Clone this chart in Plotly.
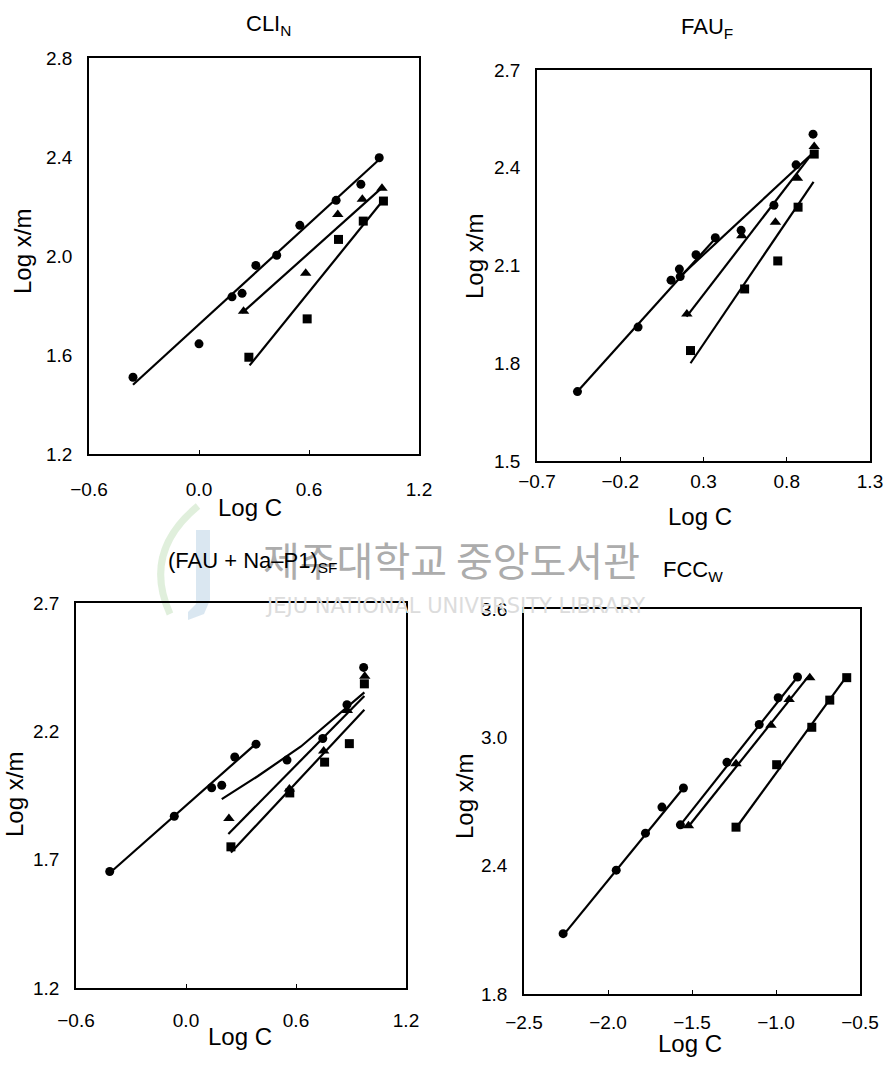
import plotly.graph_objects as go

W, H = 884, 1074

# ---------------- CLI_N ----------------
cli_circle_x = [-0.36, 0.00, 0.18, 0.235, 0.31, 0.424, 0.55, 0.748, 0.883, 0.983]
cli_circle_y = [1.51, 1.645, 1.835, 1.849, 1.962, 2.003, 2.124, 2.225, 2.29, 2.397]
cli_tri_x = [0.243, 0.582, 0.757, 0.891, 0.998]
cli_tri_y = [1.777, 1.93, 2.168, 2.229, 2.274]
cli_sq_x = [0.272, 0.59, 0.761, 0.896, 1.006]
cli_sq_y = [1.591, 1.746, 2.067, 2.141, 2.222]
cli_fit_circle_x = [-0.36, 0.98]
cli_fit_circle_y = [1.48, 2.388]
cli_fit_tri_x = [0.235, 1.0]
cli_fit_tri_y = [1.77, 2.277]
cli_fit_sq_x = [0.276, 0.99]
cli_fit_sq_y = [1.558, 2.212]
cli_xticks = [-0.6, 0.0, 0.6, 1.2]
cli_xticktext = ["\u22120.6", "0.0", "0.6", "1.2"]
cli_yticks = [1.2, 1.6, 2.0, 2.4, 2.8]
cli_yticktext = ["1.2", "1.6", "2.0", "2.4", "2.8"]

# ---------------- FAU_F ----------------
fau_circle_a_x = [-0.457, -0.093, 0.105, 0.155, 0.255, 0.371]
fau_circle_a_y = [1.713, 1.911, 2.055, 2.089, 2.133, 2.185]
fau_circle_b_x = [0.16, 0.526, 0.723, 0.856, 0.958]
fau_circle_b_y = [2.066, 2.208, 2.285, 2.409, 2.503]
fau_tri_x = [0.2, 0.53, 0.732, 0.864, 0.965]
fau_tri_y = [1.951, 2.191, 2.233, 2.368, 2.465]
fau_sq_x = [0.222, 0.547, 0.746, 0.868, 0.965]
fau_sq_y = [1.839, 2.028, 2.114, 2.279, 2.442]
fau_fit_circle_a_x = [-0.457, 0.378]
fau_fit_circle_a_y = [1.713, 2.187]
fau_fit_circle_b_x = [0.15, 0.965]
fau_fit_circle_b_y = [2.062, 2.449]
fau_fit_tri_x = [0.198, 0.965]
fau_fit_tri_y = [1.943, 2.452]
fau_fit_sq_x = [0.222, 0.961]
fau_fit_sq_y = [1.80, 2.357]
fau_xticks = [-0.7, -0.2, 0.3, 0.8, 1.3]
fau_xticktext = ["\u22120.7", "\u22120.2", "0.3", "0.8", "1.3"]
fau_yticks = [1.5, 1.8, 2.1, 2.4, 2.7]
fau_yticktext = ["1.5", "1.8", "2.1", "2.4", "2.7"]

# ---------------- (FAU + Na-P1)_SF ----------------
mix_circle_a_x = [-0.416, -0.064, 0.14, 0.266, 0.382]
mix_circle_a_y = [1.654, 1.869, 1.98, 2.10, 2.15]
mix_circle_b_x = [0.195, 0.551, 0.746, 0.878, 0.969]
mix_circle_b_y = [1.99, 2.088, 2.172, 2.304, 2.449]
mix_tri_x = [0.234, 0.564, 0.751, 0.88, 0.975]
mix_tri_y = [1.86, 1.975, 2.123, 2.281, 2.415]
mix_sq_x = [0.245, 0.566, 0.756, 0.891, 0.973]
mix_sq_y = [1.75, 1.96, 2.08, 2.152, 2.385]
mix_fit_circle_a_x = [-0.416, 0.382]
mix_fit_circle_a_y = [1.648, 2.152]
mix_fit_circle_b_x = [0.195, 0.391, 0.627, 0.973]
mix_fit_circle_b_y = [1.936, 2.025, 2.141, 2.352]
mix_fit_tri_x = [0.231, 0.973]
mix_fit_tri_y = [1.80, 2.338]
mix_fit_sq_x = [0.245, 0.973]
mix_fit_sq_y = [1.728, 2.284]
mix_xticks = [-0.6, 0.0, 0.6, 1.2]
mix_xticktext = ["\u22120.6", "0.0", "0.6", "1.2"]
mix_yticks = [1.2, 1.7, 2.2, 2.7]
mix_yticktext = ["1.2", "1.7", "2.2", "2.7"]

# ---------------- FCC_W ----------------
fcc_circle_a_x = [-2.267, -1.951, -1.777, -1.679, -1.551]
fcc_circle_a_y = [2.082, 2.379, 2.552, 2.674, 2.763]
fcc_circle_b_x = [-1.569, -1.292, -1.10, -0.987, -0.872]
fcc_circle_b_y = [2.591, 2.883, 3.06, 3.185, 3.282]
fcc_tri_x = [-1.521, -1.238, -1.03, -0.922, -0.799]
fcc_tri_y = [2.587, 2.877, 3.057, 3.177, 3.279]
fcc_sq_x = [-1.238, -0.996, -0.787, -0.68, -0.579]
fcc_sq_y = [2.58, 2.872, 3.047, 3.174, 3.279]
fcc_fit_circle_a_x = [-2.267, -1.551]
fcc_fit_circle_a_y = [2.074, 2.763]
fcc_fit_circle_b_x = [-1.569, -0.872]
fcc_fit_circle_b_y = [2.591, 3.282]
fcc_fit_tri_x = [-1.521, -0.813]
fcc_fit_tri_y = [2.583, 3.279]
fcc_fit_sq_x = [-1.238, -0.585]
fcc_fit_sq_y = [2.576, 3.279]
fcc_xticks = [-2.5, -2.0, -1.5, -1.0, -0.5]
fcc_xticktext = ["\u22122.5", "\u22122.0", "\u22121.5", "\u22121.0", "\u22120.5"]
fcc_yticks = [1.8, 2.4, 3.0, 3.6]
fcc_yticktext = ["1.8", "2.4", "3.0", "3.6"]

FONT = "Liberation Sans, Arial, Helvetica, sans-serif"
INK = "black"


def px(x):
    return x / W


def py(y):
    return 1 - y / H


panels = [
    dict(
        name="CLI<sub>N</sub>", title_xy=(268, 25),
        box=(89, 419, 58, 454), xrange=[-0.6, 1.2], yrange=[1.2, 2.8],
        xticks=(cli_xticks, cli_xticktext), yticks=(cli_yticks, cli_yticktext),
        xstand=17, ystand=11, ylab_xy=(23, 252), xlab_xy=(250, 507),
        points=[(cli_circle_x, cli_circle_y, "circle"),
                (cli_tri_x, cli_tri_y, "triangle-up"),
                (cli_sq_x, cli_sq_y, "square")],
        fits=[(cli_fit_circle_x, cli_fit_circle_y),
              (cli_fit_tri_x, cli_fit_tri_y),
              (cli_fit_sq_x, cli_fit_sq_y)],
    ),
    dict(
        name="FAU<sub>F</sub>", title_xy=(707, 28),
        box=(537, 870, 70, 461), xrange=[-0.7, 1.3], yrange=[1.5, 2.7],
        xticks=(fau_xticks, fau_xticktext), yticks=(fau_yticks, fau_yticktext),
        xstand=2, ystand=11, ylab_xy=(474, 257), xlab_xy=(700, 516),
        points=[(fau_circle_a_x, fau_circle_a_y, "circle"),
                (fau_circle_b_x, fau_circle_b_y, "circle"),
                (fau_tri_x, fau_tri_y, "triangle-up"),
                (fau_sq_x, fau_sq_y, "square")],
        fits=[(fau_fit_circle_a_x, fau_fit_circle_a_y),
              (fau_fit_circle_b_x, fau_fit_circle_b_y),
              (fau_fit_tri_x, fau_fit_tri_y),
              (fau_fit_sq_x, fau_fit_sq_y)],
    ),
    dict(
        name="(FAU + Na\u2013P1)<sub>SF</sub>", title_xy=(253, 562),
        box=(76, 406, 603, 988), xrange=[-0.6, 1.2], yrange=[1.2, 2.7],
        xticks=(mix_xticks, mix_xticktext), yticks=(mix_yticks, mix_yticktext),
        xstand=14, ystand=11, ylab_xy=(14, 795), xlab_xy=(240, 1036),
        points=[(mix_circle_a_x, mix_circle_a_y, "circle"),
                (mix_circle_b_x, mix_circle_b_y, "circle"),
                (mix_tri_x, mix_tri_y, "triangle-up"),
                (mix_sq_x, mix_sq_y, "square")],
        fits=[(mix_fit_circle_a_x, mix_fit_circle_a_y),
              (mix_fit_circle_b_x, mix_fit_circle_b_y),
              (mix_fit_tri_x, mix_fit_tri_y),
              (mix_fit_sq_x, mix_fit_sq_y)],
    ),
    dict(
        name="FCC<sub>W</sub>", title_xy=(693, 571),
        box=(524, 860, 609, 994), xrange=[-2.5, -0.5], yrange=[1.8, 3.6],
        xticks=(fcc_xticks, fcc_xticktext), yticks=(fcc_yticks, fcc_yticktext),
        xstand=10, ystand=11, ylab_xy=(464, 797), xlab_xy=(690, 1043),
        points=[(fcc_circle_a_x, fcc_circle_a_y, "circle"),
                (fcc_circle_b_x, fcc_circle_b_y, "circle"),
                (fcc_tri_x, fcc_tri_y, "triangle-up"),
                (fcc_sq_x, fcc_sq_y, "square")],
        fits=[(fcc_fit_circle_a_x, fcc_fit_circle_a_y),
              (fcc_fit_circle_b_x, fcc_fit_circle_b_y),
              (fcc_fit_tri_x, fcc_fit_tri_y),
              (fcc_fit_sq_x, fcc_fit_sq_y)],
    ),
]

fig = go.Figure()
layout = dict(
    template="none",
    width=W, height=H,
    margin=dict(l=0, r=0, t=0, b=0, pad=0),
    paper_bgcolor="white",
    plot_bgcolor="rgba(0,0,0,0)",
    showlegend=False,
    font=dict(family=FONT, color=INK),
)

annotations = []
shapes = []


def label(text, x, y, size, color=INK, family=FONT, angle=0):
    return dict(text=text, x=px(x), y=py(y), xref="paper", yref="paper",
                xanchor="center", yanchor="middle", showarrow=False, textangle=angle,
                font=dict(family=family, size=size, color=color))


def path(points):
    return "M " + " L ".join(f"{px(a):.5f},{py(b):.5f}" for a, b in points)


# faint library watermark in the middle of the sheet
shapes.append(dict(type="path", xref="paper", yref="paper", layer="below",
                   path="M {:.5f},{:.5f} Q {:.5f},{:.5f} {:.5f},{:.5f}".format(
                       px(198), py(506), px(142), py(552), px(170), py(614)),
                   line=dict(color="rgba(165,210,155,0.35)", width=7)))
shapes.append(dict(type="path", xref="paper", yref="paper", layer="below",
                   path=path([(196, 530), (210, 530), (210, 600), (204, 614),
                              (188, 620), (188, 612), (196, 604)]) + " Z",
                   fillcolor="rgba(150,185,215,0.35)", line=dict(width=0)))
annotations.append(label("제주대학교 중앙도서관", 452, 559, 40, "#acacac",
                         "Noto Sans CJK KR"))
annotations.append(label("JEJU NATIONAL UNIVERSITY LIBRARY", 455, 606, 21, "#dcdcdc",
                         "DejaVu Sans"))

for i, p in enumerate(panels, start=1):
    xa = "x" if i == 1 else f"x{i}"
    ya = "y" if i == 1 else f"y{i}"
    xl = "xaxis" if i == 1 else f"xaxis{i}"
    yl = "yaxis" if i == 1 else f"yaxis{i}"
    x0, x1, y0, y1 = p["box"]
    common = dict(showline=True, mirror=True, linecolor=INK, linewidth=1.6,
                  showgrid=False, zeroline=False, automargin=False,
                  tickfont=dict(family=FONT, size=19, color=INK))
    layout[xl] = dict(common, domain=[px(x0), px(x1)], anchor=ya, range=p["xrange"],
                      tickmode="array", tickvals=p["xticks"][0], ticktext=p["xticks"][1],
                      ticks="inside", ticklen=4, tickwidth=1, tickcolor=INK,
                      ticklabelstandoff=p["xstand"])
    layout[yl] = dict(common, domain=[py(y1), py(y0)], anchor=xa, range=p["yrange"],
                      tickmode="array", tickvals=p["yticks"][0], ticktext=p["yticks"][1],
                      ticks="", ticklabelstandoff=p["ystand"])

    for fx, fy in p["fits"]:
        fig.add_trace(go.Scatter(x=fx, y=fy, mode="lines", xaxis=xa, yaxis=ya,
                                 line=dict(color=INK, width=2.2), hoverinfo="skip"))
    for sx, sy, sym in p["points"]:
        size = 10 if sym == "triangle-up" else 9
        fig.add_trace(go.Scatter(x=sx, y=sy, mode="markers", xaxis=xa, yaxis=ya,
                                 marker=dict(symbol=sym, size=size, color=INK,
                                             line=dict(width=0))))

    annotations.append(label(p["name"], *p["title_xy"], 22))
    annotations.append(label("Log x/m", *p["ylab_xy"], 24, angle=-90))
    annotations.append(label("Log C", *p["xlab_xy"], 24))

layout["annotations"] = annotations
layout["shapes"] = shapes
fig.update_layout(**layout)
fig.write_html("out.html")
